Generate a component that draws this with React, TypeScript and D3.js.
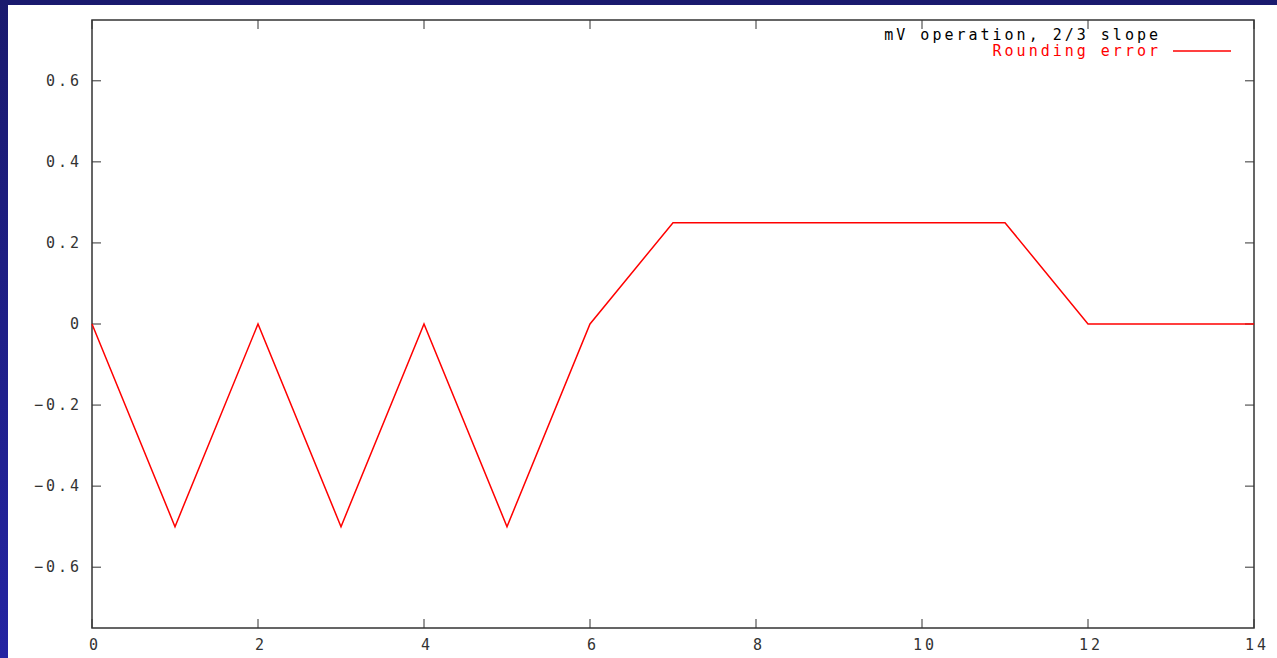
import { useEffect, useRef } from "react";
import * as d3 from "d3";

const xValues = [0, 1, 2, 3, 4, 5, 6, 7, 11, 12, 14];
const errorValues = [0, -0.5, 0, -0.5, 0, -0.5, 0, 0.25, 0.25, 0, 0];
const xTicks = [0, 2, 4, 6, 8, 10, 12, 14];
const yTicks = [-0.6, -0.4, -0.2, 0, 0.2, 0.4, 0.6];
const titleText = "mV operation, 2/3 slope";
const seriesName = "Rounding error";

export default function App() {
    const svgRef = useRef<SVGSVGElement>(null);

    useEffect(() => {
        if (!svgRef.current) return;
        const width = 1277;
        const height = 658;
        const left = 92;
        const right = 1254;
        const top = 20;
        const bottom = 628;
        const font = "'DejaVu Sans Mono', monospace";

        const svg = d3.select(svgRef.current);
        svg.selectAll("*").remove();
        svg.attr("width", width).attr("height", height);

        // slide background
        const grad = svg
            .append("defs")
            .append("linearGradient")
            .attr("id", "bg")
            .attr("x1", 0)
            .attr("y1", 0)
            .attr("x2", 0)
            .attr("y2", 1);
        grad.append("stop").attr("offset", "0%").attr("stop-color", "#1a1a6e");
        grad.append("stop").attr("offset", "100%").attr("stop-color", "#2424a2");
        svg.append("rect").attr("width", width).attr("height", height).attr("fill", "url(#bg)");
        svg.append("rect")
            .attr("x", 8)
            .attr("y", 5)
            .attr("width", width - 8)
            .attr("height", height - 5)
            .attr("fill", "#fff");

        const x = d3.scaleLinear().domain([0, 14]).range([left, right]);
        const y = d3.scaleLinear().domain([-0.75, 0.75]).range([bottom, top]);
        const fmtY = (d: number) => (d === 0 ? "0" : d3.format(".1f")(d));
        const fmtX = d3.format("d");

        const txt = (sel: d3.Selection<SVGTextElement, unknown, null, undefined>) =>
            sel
                .style("font-family", font)
                .style("font-size", "15px")
                .style("letter-spacing", "3px");

        const g = svg.append("g");

        // ticks on all four sides
        yTicks.forEach((t) => {
            g.append("line").attr("x1", left).attr("x2", left + 9).attr("y1", y(t)).attr("y2", y(t)).attr("stroke", "#333");
            g.append("line").attr("x1", right).attr("x2", right - 9).attr("y1", y(t)).attr("y2", y(t)).attr("stroke", "#333");
            g.append("text")
                .attr("x", left - 10)
                .attr("y", y(t))
                .attr("dy", "0.35em")
                .attr("text-anchor", "end")
                .attr("fill", "#333")
                .call(txt)
                .text(fmtY(t));
        });
        xTicks.forEach((t) => {
            g.append("line").attr("x1", x(t)).attr("x2", x(t)).attr("y1", bottom).attr("y2", bottom - 9).attr("stroke", "#333");
            g.append("line").attr("x1", x(t)).attr("x2", x(t)).attr("y1", top).attr("y2", top + 9).attr("stroke", "#333");
            g.append("text")
                .attr("x", x(t) + 3)
                .attr("y", bottom + 22)
                .attr("text-anchor", "middle")
                .attr("fill", "#333")
                .call(txt)
                .text(fmtX(t));
        });

        // frame
        g.append("rect")
            .attr("x", left)
            .attr("y", top)
            .attr("width", right - left)
            .attr("height", bottom - top)
            .attr("fill", "none")
            .attr("stroke", "#333")
            .attr("stroke-width", 1.5);

        const line = d3
            .line<number>()
            .x((d, i) => x(xValues[i]))
            .y((d) => y(d));
        g.append("path")
            .datum(errorValues)
            .attr("d", line)
            .attr("fill", "none")
            .attr("stroke", "#ff0000")
            .attr("stroke-width", 1.5);

        // legend
        g.append("text")
            .attr("x", 1161)
            .attr("y", 40)
            .attr("text-anchor", "end")
            .attr("fill", "#000")
            .call(txt)
            .text(titleText);
        g.append("text")
            .attr("x", 1161)
            .attr("y", 56)
            .attr("text-anchor", "end")
            .attr("fill", "#ff0000")
            .call(txt)
            .text(seriesName);
        g.append("line")
            .attr("x1", 1173)
            .attr("x2", 1231)
            .attr("y1", 51)
            .attr("y2", 51)
            .attr("stroke", "#ff0000")
            .attr("stroke-width", 1.5);
    }, []);

    return (
        <svg
            ref={svgRef}
            style={{ position: "fixed", left: 0, top: 0, display: "block" }}
        ></svg>
    );
}
